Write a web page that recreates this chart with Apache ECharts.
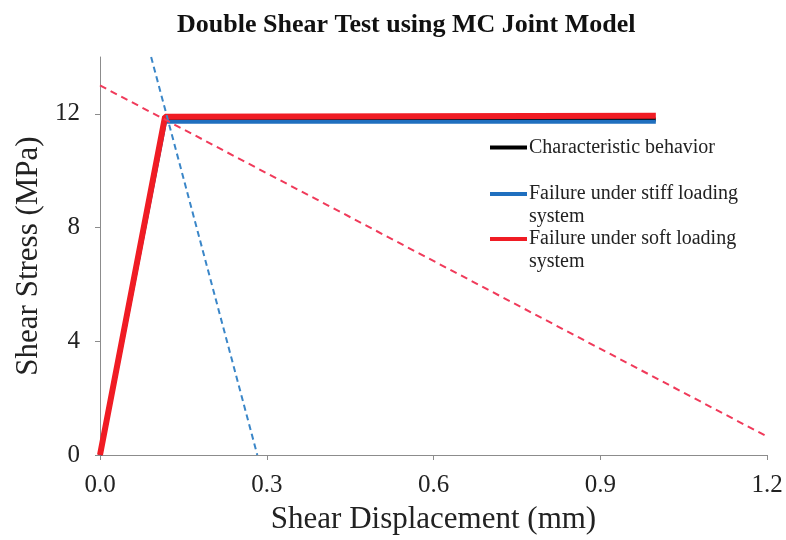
<!DOCTYPE html>
<html>
<head>
<meta charset="utf-8">
<script src="https://cdn.jsdelivr.net/npm/echarts@6/dist/echarts.min.js"></script>
<style>html,body{margin:0;padding:0;background:#fff;}#c{width:786px;height:540px;}</style>
</head>
<body>
<div id="c"></div>
<script>
var titleText = 'Double Shear Test using MC Joint Model';
var xName = 'Shear Displacement (mm)';
var yName = 'Shear Stress (MPa)';
var xTicks = [0, 0.3, 0.6, 0.9, 1.2];
var yTicks = [0, 4, 8, 12];
var seriesNames = ['Characteristic behavior', 'Failure under stiff loading\nsystem', 'Failure under soft loading\nsystem'];
var characteristic = [[0, 0], [0.117, 11.8], [1.0, 11.8]];
var stiffFailure = [[0, 0], [0.117, 11.72], [1.0, 11.72]];
var softFailure = [[0, 0], [0.117, 11.9], [1.0, 11.93]];
var stiffLoadingLine = [[0.092, 14], [0.283, 0]];
var softLoadingLine = [[0, 13], [1.2, 0.65]];

var serif = '"Liberation Serif", "DejaVu Serif", serif';
var chart = echarts.init(document.getElementById('c'), null, {renderer: 'canvas'});

function legendFmt(name) {
  if (name.indexOf('\n') >= 0) return ' \n' + name;
  return name;
}
function mkLegend(name, top) {
  return {
    data: [name], left: 490, top: top, padding: 0, orient: 'vertical',
    icon: 'rect', itemWidth: 37, itemHeight: 4, itemGap: 0,
    formatter: legendFmt, selectedMode: false,
    textStyle: {fontFamily: serif, fontSize: 20, color: '#222', lineHeight: 23, padding: [0, 0, 0, -3]}
  };
}

chart.setOption({
  animation: false,
  backgroundColor: '#fff',
  title: {
    text: titleText, left: 172, top: 7,
    textStyle: {fontFamily: serif, fontWeight: 'bold', fontSize: 26, color: '#111'}
  },
  legend: [
    mkLegend(seriesNames[0], 136),
    mkLegend(seriesNames[1], 159.5),
    mkLegend(seriesNames[2], 204.5)
  ],
  grid: {left: 100, right: 19, top: 57, bottom: 83, containLabel: false},
  xAxis: {
    type: 'value', min: 0, max: 1.2, interval: 0.3,
    name: xName, nameLocation: 'middle', nameGap: 49,
    nameTextStyle: {fontFamily: serif, fontSize: 31, color: '#222'},
    axisLine: {show: true, lineStyle: {color: '#8c8c8c', width: 1}},
    axisTick: {show: true, inside: false, length: 5, lineStyle: {color: '#8c8c8c'}},
    axisLabel: {fontFamily: serif, fontSize: 25, color: '#222', margin: 18,
      formatter: function (v) { return v.toFixed(1); }},
    splitLine: {show: false}
  },
  yAxis: {
    type: 'value', min: 0, max: 14, interval: 4,
    name: yName, nameLocation: 'middle', nameGap: 56,
    nameTextStyle: {fontFamily: serif, fontSize: 31, color: '#222'},
    axisLine: {show: true, lineStyle: {color: '#8c8c8c', width: 1}},
    axisTick: {show: true, inside: false, length: 5, lineStyle: {color: '#8c8c8c'}, customValues: yTicks},
    axisLabel: {fontFamily: serif, fontSize: 25, color: '#222', margin: 20, customValues: yTicks},
    splitLine: {show: false}
  },
  series: [
    {name: seriesNames[0], type: 'line', data: characteristic, symbol: 'none',
      lineStyle: {color: '#000', width: 4}, itemStyle: {color: '#000'}, z: 2},
    {name: seriesNames[1], type: 'line', data: stiffFailure, symbol: 'none',
      lineStyle: {color: '#1f6fbf', width: 4}, itemStyle: {color: '#1f6fbf'}, z: 3},
    {name: seriesNames[2], type: 'line', data: softFailure, symbol: 'none',
      lineStyle: {color: '#f01c24', width: 6}, itemStyle: {color: '#f01c24'}, z: 4},
    {name: 'stiff', type: 'line', data: stiffLoadingLine, symbol: 'none',
      lineStyle: {color: '#3a86c8', width: 2, type: [6, 4]}, z: 5},
    {name: 'soft', type: 'line', data: softLoadingLine, symbol: 'none',
      lineStyle: {color: '#f03a5a', width: 2, type: [7, 5]}, z: 5}
  ]
});
</script>
</body>
</html>
